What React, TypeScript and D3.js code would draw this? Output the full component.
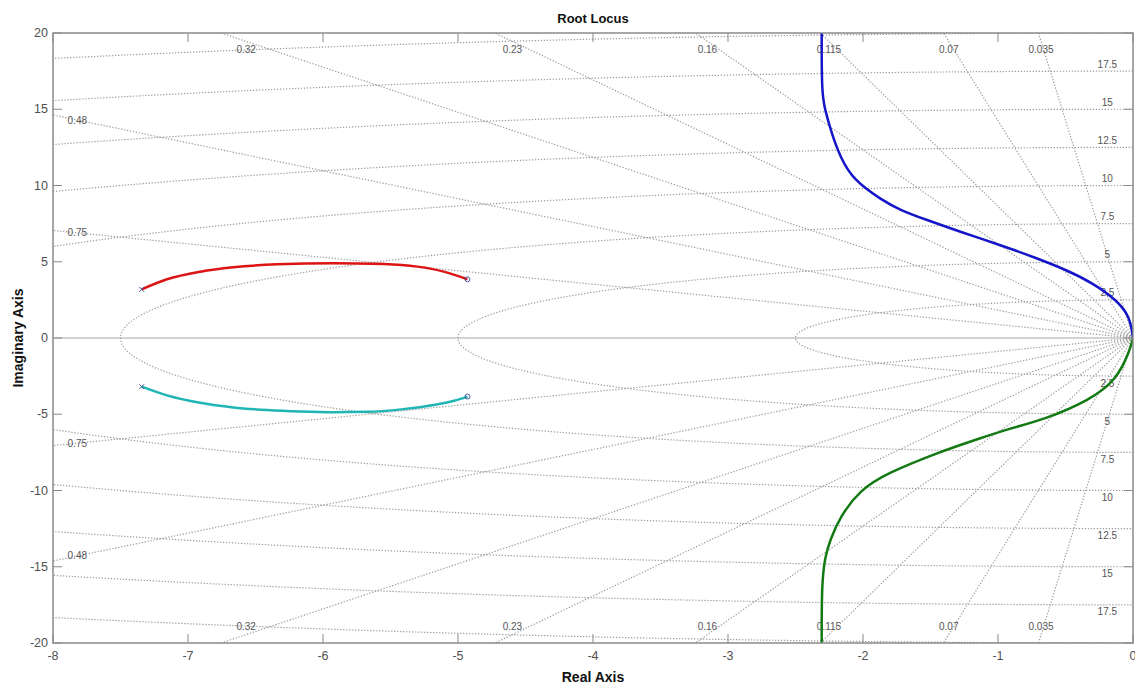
import * as d3 from 'd3';
import { useEffect, useRef } from 'react';

// axis ticks
const xTicks = [-8, -7, -6, -5, -4, -3, -2, -1, 0];
const yTicks = [-20, -15, -10, -5, 0, 5, 10, 15, 20];

// sgrid: damping ratios and natural frequencies
const zetaValues = [0.035, 0.07, 0.115, 0.16, 0.23, 0.32, 0.48, 0.75];
const zetaTopLabels = [0.32, 0.23, 0.16, 0.115, 0.07, 0.035];
const zetaSideLabels = [0.48, 0.75];
const wnValues = [2.5, 5, 7.5, 10, 12.5, 15, 17.5, 20];
const wnLabels = [2.5, 5, 7.5, 10, 12.5, 15, 17.5];

// locus branches (real / imaginary parts)
const redReal = [-7.343, -7.156, -6.909, -6.664, -6.34, -5.922, -5.551, -5.301, -5.106, -4.93];
const redImag = [3.19, 3.85, 4.35, 4.64, 4.83, 4.9, 4.85, 4.68, 4.35, 3.85];
const cyanReal = [-7.343, -7.156, -6.909, -6.664, -6.415, -6.17, -5.922, -5.67, -5.42, -5.18, -5.03, -4.93];
const cyanImag = [-3.19, -3.76, -4.25, -4.55, -4.72, -4.82, -4.87, -4.84, -4.68, -4.4, -4.12, -3.84];
const blueReal = [-2.306, -2.306, -2.306, -2.281, -2.232, -2.17, -2.072, -1.861, -1.726, -1.528, -1.281, -0.985, -0.741, -0.491, -0.296, -0.121, -0.022, 0, 0];
const blueImag = [20, 20, 16.05, 14.95, 13.42, 11.89, 10.36, 9.05, 8.39, 7.74, 6.97, 6.1, 5.33, 4.46, 3.59, 2.49, 1.4, 0, 0];
const greenReal = [-2.306, -2.306, -2.306, -2.281, -2.244, -2.17, -2.022, -1.824, -1.43, -1.133, -0.911, -0.667, -0.319, -0.121, -0.022, 0, 0];
const greenImag = [-20, -20, -16.09, -14.34, -13.25, -11.72, -9.97, -8.87, -7.46, -6.58, -5.92, -5.38, -4.07, -2.75, -0.79, 0, 0];

// poles (x) and zeros (o)
const poleReal = [-7.343, -7.343];
const poleImag = [3.19, -3.19];
const zeroReal = [-4.93, -4.93];
const zeroImag = [3.85, -3.84];

const branches = [
  { re: redReal, im: redImag, color: '#dc1414', curve: d3.curveMonotoneX },
  { re: cyanReal, im: cyanImag, color: '#1fb5b5', curve: d3.curveMonotoneX },
  { re: blueReal, im: blueImag, color: '#1414c8', curve: d3.curveBasis },
  { re: greenReal, im: greenImag, color: '#137a13', curve: d3.curveBasis },
];

const W = 1135;
const H = 686;

const RootLocus = () => {
  const svgRef = useRef(null);

  useEffect(() => {
    const margin = { top: 33, right: 2, bottom: 43, left: 53 };
    const width = W - margin.left - margin.right;
    const height = H - margin.top - margin.bottom;

    const svg = d3.select(svgRef.current);
    svg.selectAll('*').remove();
    svg.attr('width', W).attr('height', H);

    svg.append('rect').attr('width', W).attr('height', H).attr('fill', '#fff');

    const x = d3.scaleLinear().domain([-8, 0]).range([0, width]);
    const y = d3.scaleLinear().domain([-20, 20]).range([height, 0]);

    svg
      .append('defs')
      .append('clipPath')
      .attr('id', 'plot-clip')
      .append('rect')
      .attr('width', width)
      .attr('height', height);

    const g = svg.append('g').attr('transform', `translate(${margin.left},${margin.top})`);
    const plot = g.append('g').attr('clip-path', 'url(#plot-clip)');

    const line = d3
      .line()
      .x((d) => x(d[0]))
      .y((d) => y(d[1]));

    const gridColor = '#9c9c9c';
    const gridDash = '1.3,1.7';

    // real axis line
    plot
      .append('line')
      .attr('x1', 0)
      .attr('x2', width)
      .attr('y1', y(0))
      .attr('y2', y(0))
      .attr('stroke', '#d3d3d3')
      .attr('stroke-width', 2);

    // damping-ratio rays
    zetaValues.forEach((z) => {
      const s = Math.sqrt(1 - z * z);
      [1, -1].forEach((sign) => {
        plot
          .append('path')
          .attr('d', line([[0, 0], [-z * 40, sign * s * 40]]))
          .attr('fill', 'none')
          .attr('stroke', gridColor)
          .attr('stroke-width', 1.2)
          .attr('stroke-dasharray', gridDash);
      });
    });

    // natural-frequency semicircles
    wnValues.forEach((wn) => {
      const pts = d3.range(90, 270.5, 1).map((a) => {
        const r = (a * Math.PI) / 180;
        return [wn * Math.cos(r), wn * Math.sin(r)];
      });
      plot
        .append('path')
        .attr('d', line(pts))
        .attr('fill', 'none')
        .attr('stroke', gridColor)
        .attr('stroke-width', 1.2)
        .attr('stroke-dasharray', gridDash);
    });

    const labelStyle = (sel) =>
      sel
        .attr('font-family', 'Liberation Sans, Arial, sans-serif')
        .attr('font-size', 10)
        .attr('fill', '#555')
        .attr('text-anchor', 'middle')
        .attr('dominant-baseline', 'central');

    // zeta labels along top and bottom
    zetaTopLabels.forEach((z) => {
      const t = Math.sqrt(1 - z * z) / z;
      const im = 19.45;
      plot
        .append('text')
        .attr('x', x(-im / t))
        .attr('y', y(im) + 8)
        .text(String(z))
        .call(labelStyle);
      plot
        .append('text')
        .attr('x', x(-im / t))
        .attr('y', y(-im) - 8)
        .text(String(z))
        .call(labelStyle);
    });

    // zeta labels on left edge
    zetaSideLabels.forEach((z) => {
      const t = Math.sqrt(1 - z * z) / z;
      const re = -7.82;
      [1, -1].forEach((sign) => {
        plot
          .append('text')
          .attr('x', x(re))
          .attr('y', y(sign * -re * t))
          .text(String(z))
          .call(labelStyle);
      });
    });

    // wn labels on right edge
    wnLabels.forEach((wn) => {
      [1, -1].forEach((sign) => {
        plot
          .append('text')
          .attr('x', x(-0.19))
          .attr('y', y(sign * wn) - sign * 7)
          .text(String(wn))
          .call(labelStyle);
      });
    });

    // locus branches
    branches.forEach((b) => {
      const pts = b.re.map((r, i) => [r, b.im[i]]);
      const curve = d3
        .line()
        .curve(b.curve)
        .x((d) => x(d[0]))
        .y((d) => y(d[1]));
      plot
        .append('path')
        .attr('d', curve(pts))
        .attr('fill', 'none')
        .attr('stroke', b.color)
        .attr('stroke-width', 2.5)
        .attr('stroke-linejoin', 'round');
    });

    // pole / zero markers
    poleReal.forEach((r, i) => {
      const cx = x(r);
      const cy = y(poleImag[i]);
      plot
        .append('path')
        .attr('d', `M${cx - 2.5},${cy - 2.5}L${cx + 2.5},${cy + 2.5}M${cx - 2.5},${cy + 2.5}L${cx + 2.5},${cy - 2.5}`)
        .attr('stroke', '#4a5a9a')
        .attr('stroke-width', 1);
    });
    zeroReal.forEach((r, i) => {
      plot
        .append('circle')
        .attr('cx', x(r))
        .attr('cy', y(zeroImag[i]))
        .attr('r', 2.5)
        .attr('fill', 'none')
        .attr('stroke', '#4a5a9a')
        .attr('stroke-width', 1);
    });

    // axes box + ticks
    const axisColor = '#8a8a8a';
    g.append('rect')
      .attr('width', width)
      .attr('height', height)
      .attr('fill', 'none')
      .attr('stroke', axisColor)
      .attr('stroke-width', 1.5);

    const tickLen = 9;
    const tickFont = 'Liberation Sans, Arial, sans-serif';
    xTicks.forEach((v) => {
      g.append('line')
        .attr('x1', x(v)).attr('x2', x(v))
        .attr('y1', height).attr('y2', height - tickLen)
        .attr('stroke', axisColor);
      g.append('line')
        .attr('x1', x(v)).attr('x2', x(v))
        .attr('y1', 0).attr('y2', tickLen)
        .attr('stroke', axisColor);
      g.append('text')
        .attr('x', x(v))
        .attr('y', height + 13)
        .attr('text-anchor', 'middle')
        .attr('dominant-baseline', 'central')
        .attr('font-family', tickFont)
        .attr('font-size', 12.5)
        .attr('fill', '#505050')
        .text(String(v));
    });
    yTicks.forEach((v) => {
      g.append('line')
        .attr('x1', 0).attr('x2', tickLen)
        .attr('y1', y(v)).attr('y2', y(v))
        .attr('stroke', axisColor);
      g.append('line')
        .attr('x1', width).attr('x2', width - tickLen)
        .attr('y1', y(v)).attr('y2', y(v))
        .attr('stroke', axisColor);
      g.append('text')
        .attr('x', -5)
        .attr('y', y(v))
        .attr('text-anchor', 'end')
        .attr('dominant-baseline', 'central')
        .attr('font-family', tickFont)
        .attr('font-size', 12.5)
        .attr('fill', '#505050')
        .text(String(v));
    });

    // titles
    const boldText = (sel, size) =>
      sel
        .attr('font-family', 'Liberation Sans, Arial, sans-serif')
        .attr('font-weight', 'bold')
        .attr('font-size', size)
        .attr('fill', '#111')
        .attr('text-anchor', 'middle')
        .attr('dominant-baseline', 'central');

    svg.append('text')
      .attr('x', margin.left + width / 2)
      .attr('y', 18)
      .text('Root Locus')
      .call(boldText, 13);
    svg.append('text')
      .attr('x', margin.left + width / 2)
      .attr('y', 677)
      .text('Real Axis')
      .call(boldText, 14);
    svg.append('text')
      .attr('transform', `translate(18,${margin.top + height / 2}) rotate(-90)`)
      .text('Imaginary Axis')
      .call(boldText, 14);
  }, []);

  return <svg ref={svgRef} style={{ position: 'absolute', left: 0, top: 0, display: 'block' }} />;
};

export default function App() {
  return <RootLocus />;
}
